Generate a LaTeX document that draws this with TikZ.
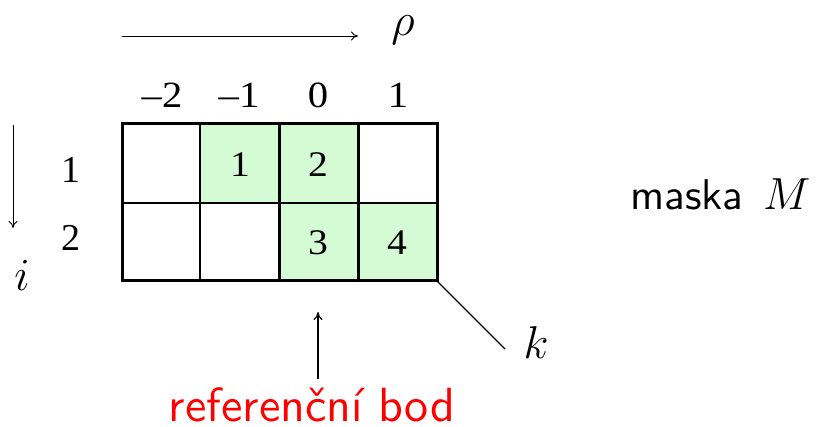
\RequirePackage{fix-cm}
\documentclass[tikz,border=0pt]{standalone}
\usepackage{fontspec}
\usepackage{graphicx}
\newfontfamily\tms{Liberation Serif}
\setsansfont{lmsans10-regular.otf}
\usetikzlibrary{arrows.meta}
\definecolor{cellgreen}{HTML}{D5FBD5}
\newcommand\widenum[1]{\scalebox{1.1}[1]{#1}}
\tikzset{
  num/.style={font=\tms\fontsize{37}{40}\selectfont, inner sep=0pt},
  cellnum/.style={font=\tms\fontsize{36}{40}\selectfont, inner sep=0pt},
  rownum/.style={font=\tms\fontsize{38}{42}\selectfont, inner sep=0pt},
  mathlbl/.style={font=\fontsize{46}{50}\selectfont, inner sep=0pt},
  thinarrow/.style={line width=0.9pt, -{To[length=7pt,width=9pt]}},
  thickline/.style={line width=3pt},
  thinline/.style={line width=1.4pt},
}
\begin{document}
\begin{tikzpicture}[x=1pt,y=-1pt]
\useasboundingbox (0,0) rectangle (821,427);
% green cells
\fill[cellgreen] (200,124) rectangle (279,203);
\fill[cellgreen] (279,124) rectangle (358,203);
\fill[cellgreen] (279,203) rectangle (358,281);
\fill[cellgreen] (358,203) rectangle (437,281);
% grid
\draw[thinline] (122,203) -- (437,203);
\draw[thinline] (200,124) -- (200,281);
\draw[thickline] (279,124) -- (279,281);
\draw[thickline] (358,124) -- (358,281);
\draw[thickline] (122,124) rectangle (437,281);
\coordinate (corner) at (437,281);
% cell numbers
\node[cellnum] (c1) at (240,165) {\widenum{1}};
\node[cellnum] (c2) at (318,165) {\widenum{2}};
\node[cellnum] (c3) at (318,243) {\widenum{3}};
\node[cellnum] (c4) at (397,243) {\widenum{4}};
% column labels
\node[num] (cm2) at (162,95) {\widenum{\textendash2}};
\node[num] (cm1) at (239,95) {\widenum{\textendash1}};
\node[num] (c0) at (318,95) {\widenum{0}};
\node[num] (cp1) at (398,95) {\widenum{1}};
% row labels
\node[rownum] (r1) at (71,170) {1};
\node[rownum] (r2) at (71,238) {2};
% rho arrow
\coordinate (rs) at (122,36);
\coordinate (re) at (358,36);
\draw[thinarrow] (rs) -- (re);
\node[mathlbl] (rho) at (403,30) {$\rho$};
% i arrow
\coordinate (is) at (13,125);
\coordinate (ie) at (13,228);
\draw[thinarrow] (is) -- (ie);
\node[mathlbl] (ilbl) at (22,275) {$i$};
% k line
\coordinate (kend) at (505,349);
\draw[line width=1.4pt] (corner) -- (kend);
\node[mathlbl] (klbl) at (536,343) {$k$};
% reference arrow
\coordinate (as) at (318,379);
\coordinate (ae) at (318,312);
\draw[line width=1.2pt, -{To[length=8pt,width=9pt]}] (as) -- (ae);
\node[font=\sffamily\fontsize{48}{52}\selectfont, text=red, inner sep=0pt, anchor=base] (ref) at (312,421) {referenční bod};
% mask label
\node[font=\sffamily\fontsize{43}{46}\selectfont, inner sep=0pt, anchor=base west] (mask) at (630,210) {maska\hspace{20pt}\fontsize{45}{48}\selectfont$M$};
\end{tikzpicture}
\end{document}
